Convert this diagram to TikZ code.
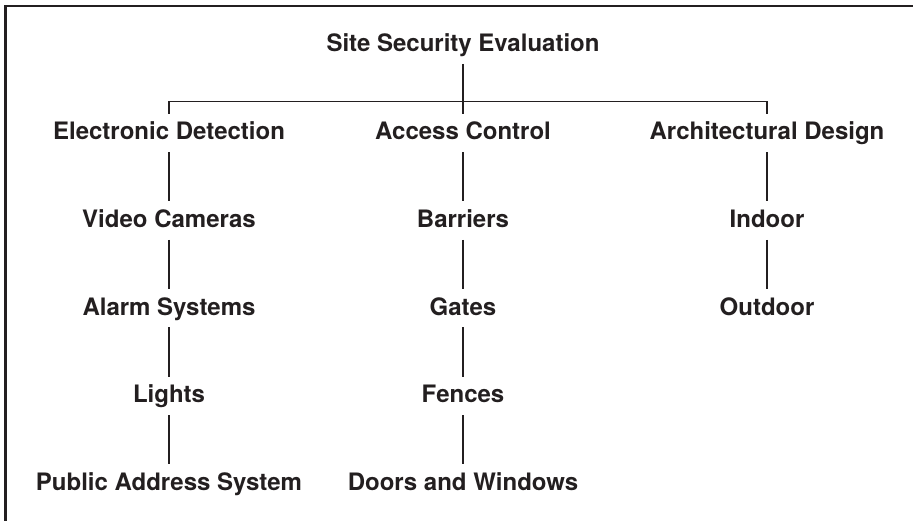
\documentclass[tikz,border=0pt]{standalone}
\usepackage{fontspec}
\setmainfont{TeX Gyre Heros}
\definecolor{ink}{HTML}{231F20}
\begin{document}
\begin{tikzpicture}[x=1pt,y=-1pt,
  lbl/.style={anchor=base,inner sep=0pt,text height=26pt,text depth=12pt,
    font=\fontsize{24}{28}\selectfont\bfseries,text=ink},
  conn/.style={draw=ink,line width=1.5pt},
  frame/.style={draw=ink,line width=2.6pt}]
\useasboundingbox (0,0) rectangle (913,521);
\fill[white] (0,0) rectangle (913,521);
\coordinate (fbl) at (5.5,530);
\coordinate (ftl) at (5.5,6);
\coordinate (ftr) at (920,6);
\draw[frame] (fbl) -- (ftl) -- (ftr);
% root
\node[lbl] (root) at (463,51.7) {Site Security Evaluation};
% level 1
\node[lbl] (ed) at (169,140) {Electronic Detection};
\node[lbl] (ac) at (463,140) {Access Control};
\node[lbl] (ad) at (767,140) {Architectural Design};
% left column
\node[lbl] (vc) at (169,227.6) {Video Cameras};
\node[lbl] (as) at (169,315.2) {Alarm Systems};
\node[lbl] (li) at (169,402.8) {Lights};
\node[lbl] (pa) at (169,490.4) {Public Address System};
% center column
\node[lbl] (ba) at (463,227.6) {Barriers};
\node[lbl] (ga) at (463,315.2) {Gates};
\node[lbl] (fe) at (463,402.8) {Fences};
\node[lbl] (dw) at (463,490.4) {Doors and Windows};
% right column
\node[lbl] (in) at (767,227.6) {Indoor};
\node[lbl] (ou) at (767,315.2) {Outdoor};
% connectors
\coordinate (bus) at (463,101.5);
\draw[conn] (root.south) -- (bus);
\draw[conn] (ed.north) |- (bus) -| (ad.north);
\draw[conn] (bus) -- (ac.north);
\draw[conn] (ed.south) -- (vc.north);
\draw[conn] (vc.south) -- (as.north);
\draw[conn] (as.south) -- (li.north);
\draw[conn] (li.south) -- (pa.north);
\draw[conn] (ac.south) -- (ba.north);
\draw[conn] (ba.south) -- (ga.north);
\draw[conn] (ga.south) -- (fe.north);
\draw[conn] (fe.south) -- (dw.north);
\draw[conn] (ad.south) -- (in.north);
\draw[conn] (in.south) -- (ou.north);
\end{tikzpicture}
\end{document}
